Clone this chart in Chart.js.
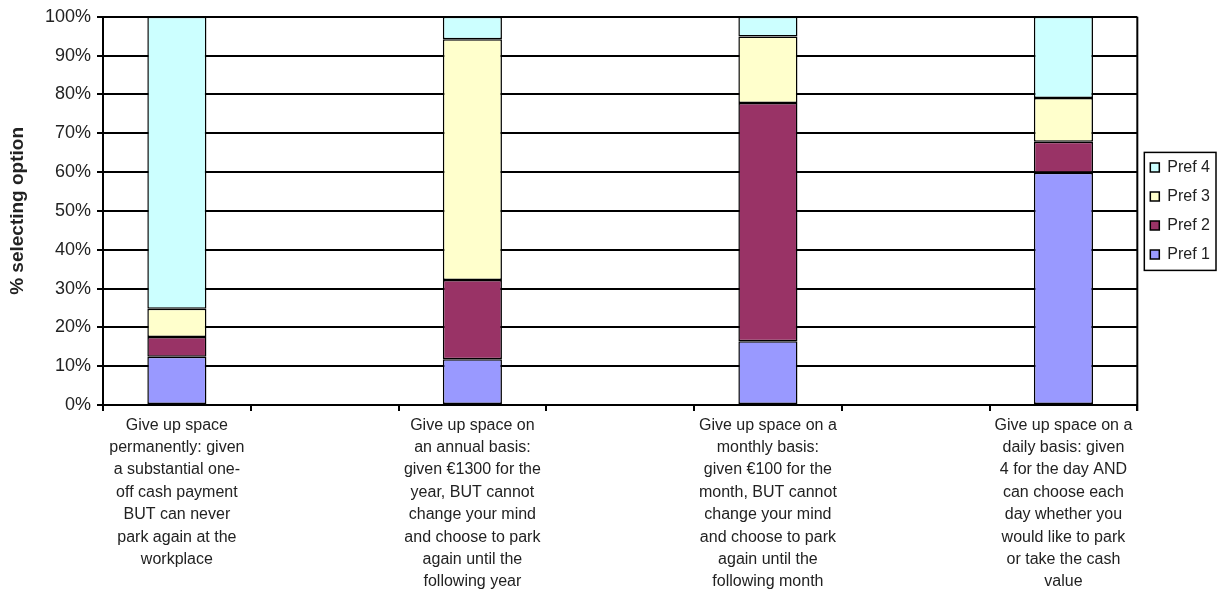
<!DOCTYPE html>
<html>
<head>
<meta charset="utf-8">
<script src="https://cdn.jsdelivr.net/npm/chart.js@4"></script>
<style>
  html, body { margin: 0; padding: 0; background: #fff; }
  #wrap { width: 1225px; height: 592px; }
</style>
</head>
<body>
<div id="wrap"><canvas id="chartCanvas" width="1225" height="592"></canvas></div>
<script>
// categories (one label per bar, blank slots sit between them)
const categories = [
  ['Give up space', 'permanently: given', 'a substantial one-', 'off cash payment', 'BUT can never', 'park again at the', 'workplace'],
  ['Give up space on', 'an annual basis:', 'given €1300 for the', 'year, BUT cannot', 'change your mind', 'and choose to park', 'again until the', 'following year'],
  ['Give up space on a', 'monthly basis:', 'given €100 for the', 'month, BUT cannot', 'change your mind', 'and choose to park', 'again until the', 'following month'],
  ['Give up space on a', 'daily basis: given', '4 for the day AND', 'can choose each', 'day whether you', 'would like to park', 'or take the cash', 'value']
];

// % selecting option, per category
const pref1 = [12.4, 11.8, 16.4, 59.8];
const pref2 = [5.1, 20.4, 61.4, 8.0];
const pref3 = [7.3, 62.0, 17.1, 11.3];
const pref4 = [75.2, 5.8, 5.1, 20.9];

const yTicks = [0, 10, 20, 30, 40, 50, 60, 70, 80, 90, 100];

const FONT = '"Liberation Sans", Arial, sans-serif';

// spread 4 bars over 7 slots, empty slot between each
function spread(arr) {
  const out = [];
  arr.forEach((v, i) => {
    if (i > 0) out.push(null);
    out.push(v);
  });
  return out;
}
const labels = spread(categories).map(l => l === null ? '' : l);

// box round the plot and round the legend
const framePlugin = {
  id: 'frame',
  afterDraw(chart) {
    const ctx = chart.ctx;
    const a = chart.chartArea;
    ctx.save();
    ctx.strokeStyle = '#000';
    ctx.lineWidth = 2;
    ctx.beginPath();
    ctx.moveTo(a.right, a.top);
    ctx.lineTo(a.right, a.bottom + 6);
    ctx.stroke();

    const boxes = chart.legend.legendHitBoxes;
    if (boxes && boxes.length) {
      const l = Math.min(...boxes.map(b => b.left));
      const t = Math.min(...boxes.map(b => b.top));
      const r = Math.max(...boxes.map(b => b.left + b.width));
      const bt = Math.max(...boxes.map(b => b.top + b.height));
      ctx.lineWidth = 1.5;
      ctx.strokeRect(l - 6, t - 7, r - l + 12, bt - t + 15);
    }
    ctx.restore();
  }
};

new Chart(document.getElementById('chartCanvas'), {
  type: 'bar',
  data: {
    labels,
    datasets: [
      { label: 'Pref 1', data: spread(pref1), backgroundColor: '#9999FF' },
      { label: 'Pref 2', data: spread(pref2), backgroundColor: '#993366' },
      { label: 'Pref 3', data: spread(pref3), backgroundColor: '#FFFFCC' },
      { label: 'Pref 4', data: spread(pref4), backgroundColor: '#CCFFFF' }
    ].map(d => Object.assign(d, {
      borderColor: '#000',
      borderWidth: 1.5,
      borderSkipped: false,
      barPercentage: 0.4,
      categoryPercentage: 1.0
    }))
  },
  options: {
    responsive: false,
    animation: false,
    devicePixelRatio: 1,
    layout: { padding: { top: 12, right: 5, bottom: 0, left: 0 } },
    plugins: {
      tooltip: { enabled: false },
      legend: {
        position: 'right',
        fullSize: false,
        reverse: true,
        labels: {
          boxWidth: 9,
          boxHeight: 9,
          padding: 13,
          color: '#222',
          font: { family: FONT, size: 16 }
        }
      }
    },
    scales: {
      x: {
        stacked: true,
        offset: true,
        grid: { display: true, drawOnChartArea: false, color: '#000', lineWidth: 2, tickLength: 6, offset: true },
        border: { color: '#000', width: 2 },
        ticks: {
          autoSkip: false,
          maxRotation: 0,
          minRotation: 0,
          padding: 3,
          color: '#222',
          font: { family: FONT, size: 16, lineHeight: 1.4 }
        },
        afterFit(scale) { scale.height = 592 - 405; }
      },
      y: {
        stacked: true,
        min: 0,
        max: 100,
        afterBuildTicks(scale) { scale.ticks = yTicks.map(v => ({ value: v })); },
        ticks: {
          padding: 6,
          color: '#222',
          font: { family: FONT, size: 18 },
          callback: v => v + '%'
        },
        grid: { color: '#000', lineWidth: 2, tickLength: 6 },
        border: { color: '#000', width: 2 },
        title: {
          display: true,
          text: '% selecting option',
          color: '#222',
          padding: { top: 6, bottom: 0 },
          font: { family: FONT, size: 19, weight: 'bold' }
        },
        afterFit(scale) { scale.width = 103; }
      }
    }
  },
  plugins: [framePlugin]
});
</script>
</body>
</html>
